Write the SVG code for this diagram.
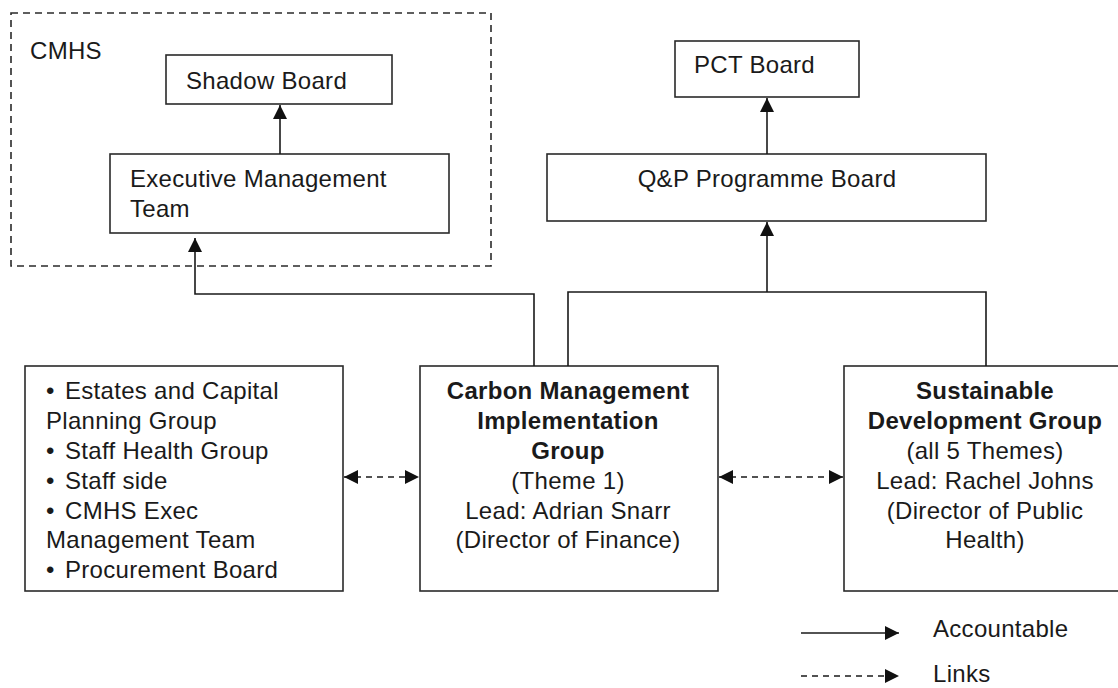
<svg xmlns="http://www.w3.org/2000/svg" width="1118" height="688" viewBox="0 0 1118 688">
<style>
  .box { fill: #fff; stroke: #2a2a2a; stroke-width: 1.6; }
  .grp { fill: none; stroke: #2a2a2a; stroke-width: 1.6; stroke-dasharray: 7 5; }
  .t { font-family: "Liberation Sans", Arial, sans-serif; font-size: 24px; fill: #1a1a1a; letter-spacing: 0.3px; }
  .b { font-weight: bold; }
  .c { text-anchor: middle; }
  .acc { fill: none; stroke: #1a1a1a; stroke-width: 1.6; }
  .lnk { fill: none; stroke: #1a1a1a; stroke-width: 1.6; stroke-dasharray: 6 5; }
</style>
<defs>
  <marker id="ah" markerUnits="userSpaceOnUse" markerWidth="14" markerHeight="14" refX="14" refY="7" orient="auto-start-reverse" viewBox="0 0 14 14">
    <path d="M0,0 L14,7 L0,14 z" fill="#111"/>
  </marker>
</defs>
<rect width="1118" height="688" fill="#fff"/>

<g id="cmhs">
  <rect class="grp" x="11" y="13" width="480" height="253"/>
  <text class="t" x="30" y="59">CMHS</text>
</g>
<g id="shadow-board">
  <rect class="box" x="166" y="55" width="226" height="49"/>
  <text class="t" x="186" y="89">Shadow Board</text>
</g>
<g id="exec-team">
  <rect class="box" x="110" y="154" width="339" height="79"/>
  <text class="t" x="130" y="187">Executive Management</text>
  <text class="t" x="130" y="217">Team</text>
</g>
<g id="pct-board">
  <rect class="box" x="675" y="41" width="184" height="56"/>
  <text class="t" x="694" y="73">PCT Board</text>
</g>
<g id="qp-board">
  <rect class="box" x="547" y="154" width="439" height="67"/>
  <text class="t c" x="767" y="187">Q&amp;P Programme Board</text>
</g>
<g id="others">
  <rect class="box" x="25" y="366" width="318" height="225"/>
  <text class="t" y="399"><tspan x="46">•</tspan><tspan x="65">Estates and Capital</tspan></text>
  <text class="t" x="46" y="429">Planning Group</text>
  <text class="t" y="459"><tspan x="46">•</tspan><tspan x="65">Staff Health Group</tspan></text>
  <text class="t" y="489"><tspan x="46">•</tspan><tspan x="65">Staff side</tspan></text>
  <text class="t" y="519"><tspan x="46">•</tspan><tspan x="65">CMHS Exec</tspan></text>
  <text class="t" x="46" y="548">Management Team</text>
  <text class="t" y="578"><tspan x="46">•</tspan><tspan x="65">Procurement Board</tspan></text>
</g>
<g id="cmig">
  <rect class="box" x="420" y="366" width="298" height="225"/>
  <text class="t b c" x="568" y="399">Carbon Management</text>
  <text class="t b c" x="568" y="429">Implementation</text>
  <text class="t b c" x="568" y="459">Group</text>
  <text class="t c" x="568" y="489">(Theme 1)</text>
  <text class="t c" x="568" y="519">Lead: Adrian Snarr</text>
  <text class="t c" x="568" y="548">(Director of Finance)</text>
</g>
<g id="sdg">
  <rect class="box" x="844" y="366" width="290" height="225"/>
  <text class="t b c" x="985" y="399">Sustainable</text>
  <text class="t b c" x="985" y="429">Development Group</text>
  <text class="t c" x="985" y="459">(all 5 Themes)</text>
  <text class="t c" x="985" y="489">Lead: Rachel Johns</text>
  <text class="t c" x="985" y="519">(Director of Public</text>
  <text class="t c" x="985" y="548">Health)</text>
</g>

<g id="connectors">
  <path class="acc" d="M280,154 V105" marker-end="url(#ah)"/>
  <path class="acc" d="M767,154 V98" marker-end="url(#ah)"/>
  <path class="acc" d="M534,366 V294 H195 V238" marker-end="url(#ah)"/>
  <path class="acc" d="M568,366 V292 H986 V366"/>
  <path class="acc" d="M767,292 V222" marker-end="url(#ah)"/>
  <path class="lnk" d="M344,477 H419" marker-start="url(#ah)" marker-end="url(#ah)"/>
  <path class="lnk" d="M719,477 H843" marker-start="url(#ah)" marker-end="url(#ah)"/>
</g>

<g id="legend">
  <path class="acc" d="M801,633 H899" marker-end="url(#ah)"/>
  <text class="t" x="933" y="637">Accountable</text>
  <path class="lnk" d="M801,676 H899" marker-end="url(#ah)"/>
  <text class="t" x="933" y="682">Links</text>
</g>
</svg>
